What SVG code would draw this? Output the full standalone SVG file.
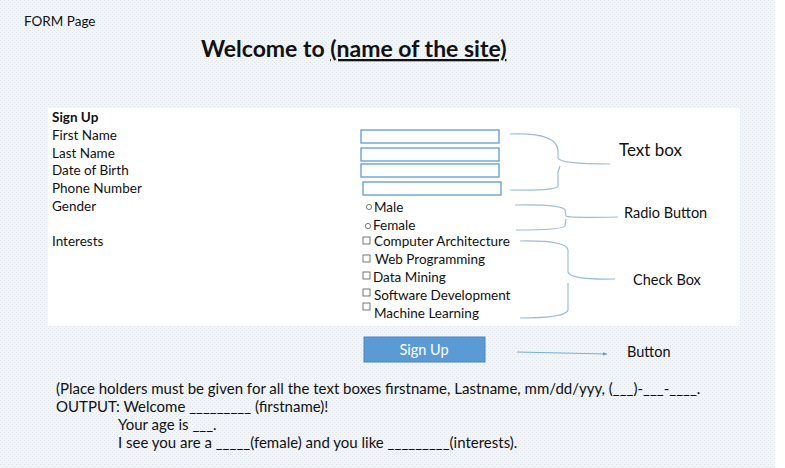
<svg xmlns="http://www.w3.org/2000/svg" width="785" height="468" viewBox="0 0 785 468">
<defs>
<pattern id="dots" width="4" height="4" patternUnits="userSpaceOnUse"><rect width="4" height="4" fill="#f3f5f8"/><rect width="1" height="1" fill="#dde3ea"/><rect x="2" y="2" width="1" height="1" fill="#dde3ea"/></pattern>
<marker id="ah" markerWidth="6" markerHeight="6" refX="5" refY="3" orient="auto"><path d="M0,1 L5,3 L0,5 Z" fill="#5b9bd5"/></marker>
</defs>
<style>
text{font-family:Lato,"Open Sans",sans-serif;fill:#111}
.s{font-size:13.5px}
.m{font-size:15px}
.tb{fill:#fff;stroke:#5b9bd5;stroke-width:1.3}
.br{fill:none;stroke:#9dbbdc;stroke-width:1.2}
.cb{fill:#fff;stroke:#555;stroke-width:0.8}
</style>
<rect width="785" height="468" fill="#fff"/>
<rect x="0" y="0" width="775" height="468" fill="url(#dots)"/>
<rect x="48" y="108" width="692" height="218" fill="#fff"/>
<text x="24" y="26" class="s">FORM Page</text>
<text x="201" y="57" font-size="23" font-weight="bold">Welcome to <tspan text-decoration="underline">(name of the site)</tspan></text>
<g id="labels">
<text x="52" y="122" class="s" font-weight="bold">Sign Up</text>
<text x="52" y="140" class="s">First Name</text>
<text x="52" y="158" class="s">Last Name</text>
<text x="52" y="175" class="s">Date of Birth</text>
<text x="52" y="193" class="s">Phone Number</text>
<text x="52" y="211" class="s">Gender</text>
<text x="52" y="246" class="s">Interests</text>
</g>
<g id="textboxes">
<rect class="tb" x="361" y="130" width="138" height="13"/>
<rect class="tb" x="361" y="148" width="138" height="13"/>
<rect class="tb" x="361" y="164" width="138" height="13"/>
<rect class="tb" x="363" y="182" width="138" height="13"/>
</g>
<g id="radios">
<circle cx="369" cy="207" r="2.6" fill="#fff" stroke="#555" stroke-width="0.8"/>
<text x="374" y="212" class="s">Male</text>
<circle cx="368" cy="226" r="2.6" fill="#fff" stroke="#555" stroke-width="0.8"/>
<text x="373" y="230" class="s">Female</text>
</g>
<g id="checks">
<rect class="cb" x="363" y="237" width="7" height="7"/><text x="374" y="246" class="s">Computer Architecture</text>
<rect class="cb" x="363" y="255" width="7" height="7"/><text x="375" y="264" class="s">Web Programming</text>
<rect class="cb" x="363" y="272" width="7" height="7"/><text x="373" y="282" class="s">Data Mining</text>
<rect class="cb" x="363" y="289" width="7" height="7"/><text x="374" y="300" class="s">Software Development</text>
<rect class="cb" x="363" y="303" width="7" height="7"/><text x="374" y="318" class="s">Machine Learning</text>
</g>
<g id="button">
<rect x="364" y="337" width="121" height="25" fill="#5b9bd5" stroke="#4a86c0"/>
<text x="424" y="355" font-size="14.5" text-anchor="middle" style="fill:#fff">Sign Up</text>
</g>
<g id="connectors">
<path class="br" d="M510,134 Q556,132 558,150 L558,158 Q560,164 610,164 M560,166 L558,172 L558,186 Q556,191 510,190"/>
<path class="br" d="M515,205 Q562,204 565,210 L566,216 Q568,218 618,217 M566,219 L565,226 Q562,230 516,230"/>
<path class="br" d="M520,241 Q566,240 568,250 L568,272 Q570,280 615,279 M568,283 L568,310 Q566,318 520,318"/>
<line x1="517" y1="352" x2="607" y2="354" stroke="#5b9bd5" stroke-width="0.8" marker-end="url(#ah)"/>
</g>
<g id="annotations">
<text x="619" y="156" font-size="17">Text box</text>
<text x="624" y="218" font-size="14.5">Radio Button</text>
<text x="633" y="285" font-size="14.5">Check Box</text>
<text x="627" y="357" font-size="14.5">Button</text>
</g>
<g id="notes">
<text x="56" y="394" class="m">(Place holders must be given for all the text boxes firstname, Lastname, mm/dd/yyy, (___)-___-____.</text>
<text x="56" y="412" class="m">OUTPUT:  Welcome _________ (firstname)!</text>
<text x="118" y="430" class="m">Your age is ___.</text>
<text x="118" y="448" class="m">I see you are a _____(female) and you like _________(interests).</text>
</g>
</svg>
